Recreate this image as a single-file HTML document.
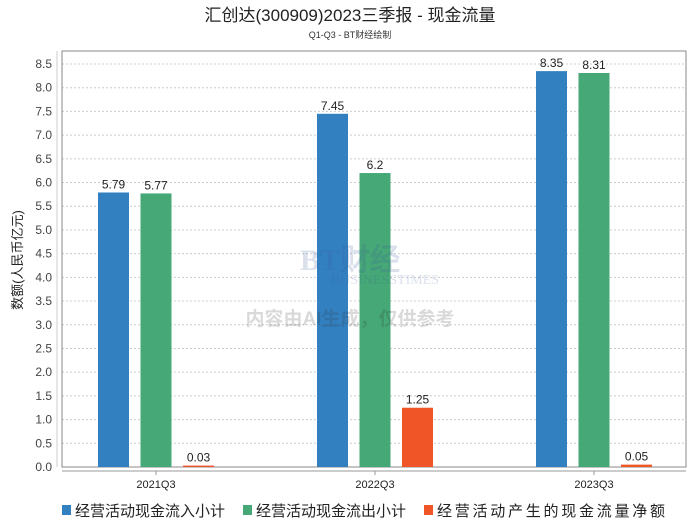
<!DOCTYPE html>
<html><head><meta charset="utf-8"><style>
body{margin:0;background:#fff;font-family:"Liberation Sans","Noto Sans CJK SC",sans-serif}
</style></head><body>
<svg id="c" width="700" height="524" xmlns="http://www.w3.org/2000/svg" font-family="Liberation Sans, Noto Sans CJK SC, sans-serif">
<text x="350" y="21" text-anchor="middle" font-size="17" fill="#222">汇创达(300909)2023三季报 - 现金流量</text>
<text x="350" y="38" text-anchor="middle" font-size="9" fill="#333">Q1-Q3 - BT财经绘制</text>
<text transform="translate(22,260) rotate(-90)" text-anchor="middle" font-size="13" fill="#222">数额(人民币亿元)</text>
<g id="grid"></g>
<rect x="62" y="51" width="624" height="416" fill="none" stroke="#888" stroke-width="1"/>
<line x1="62" y1="471" x2="686" y2="471" stroke="#999"/>
<line x1="57" y1="51" x2="57" y2="467" stroke="#ccc"/>
<g id="bars"></g>
<g opacity="0.18">
<text x="350" y="270" text-anchor="middle" font-size="30" font-family="Liberation Serif, serif" font-weight="bold" fill="#3a5a9a">BT财经</text>
<text x="385" y="284" text-anchor="middle" font-size="14" font-family="Liberation Serif, serif" fill="#3a5a9a">BUSINESSTIMES</text>
<text x="350" y="325" text-anchor="middle" font-size="19" font-weight="bold" fill="#333">内容由AI生成，仅供参考</text>
</g>
<g font-size="15" fill="#222">
<rect x="62" y="505" width="9" height="10" fill="#3280c0"/>
<text x="75" y="516">经营活动现金流入小计</text>
<rect x="243" y="505" width="9" height="10" fill="#45a876"/>
<text x="256" y="516">经营活动现金流出小计</text>
<rect x="424" y="505" width="9" height="10" fill="#f05528"/>
<text x="437" y="516" textLength="228">经营活动产生的现金流量净额</text>
</g>
</svg>
<script>
const categories=["2021Q3","2022Q3","2023Q3"];
const inflow=[5.79,7.45,8.35];
const outflow=[5.77,6.2,8.31];
const netflow=[0.03,1.25,0.05];
const inflowLabels=["5.79","7.45","8.35"];
const outflowLabels=["5.77","6.2","8.31"];
const netLabels=["0.03","1.25","0.05"];
const yTicks=[0,0.5,1,1.5,2,2.5,3,3.5,4,4.5,5,5.5,6,6.5,7,7.5,8,8.5];
const NS="http://www.w3.org/2000/svg";
const y=v=>467-v*(403/8.5);
const xc=i=>156+i*219;
const grid=document.getElementById('grid'),bars=document.getElementById('bars');
function mk(tag,attrs,parent){const e=document.createElementNS(NS,tag);for(const k in attrs)e.setAttribute(k,attrs[k]);parent.appendChild(e);return e;}
yTicks.forEach(t=>{
  const l=mk('line',{x1:62,x2:686,y1:y(t),y2:y(t),stroke:'#ccc','stroke-dasharray':'2,2'},grid);
  
  
  const tx=mk('text',{x:52,y:y(t)+4,'text-anchor':'end','font-size':12,fill:'#444'},grid);
  tx.textContent=t.toFixed(1);
  
  
});
const series=[[inflow,inflowLabels,'#3280c0','inflow'],[outflow,outflowLabels,'#45a876','outflow'],[netflow,netLabels,'#f05528','net']];
categories.forEach((c,i)=>{
  series.forEach((s,j)=>{
    const x=xc(i)+(j-1)*42.5-15.5;
    const r=mk('rect',{x:x,y:y(s[0][i]),width:31,height:467-y(s[0][i]),fill:s[2]},bars);
    
    
    const t=mk('text',{x:x+15.5,y:y(s[0][i])-4,'text-anchor':'middle','font-size':12,fill:'#222'},bars);
    t.textContent=s[1][i];
    
    
  });
  mk('line',{x1:xc(i),x2:xc(i),y1:471,y2:475,stroke:'#999'},bars);
  const lt=mk('text',{x:xc(i),y:488,'text-anchor':'middle','font-size':11,fill:'#222'},bars);
  lt.textContent=c;
  
  
});
</script>
</body></html>
